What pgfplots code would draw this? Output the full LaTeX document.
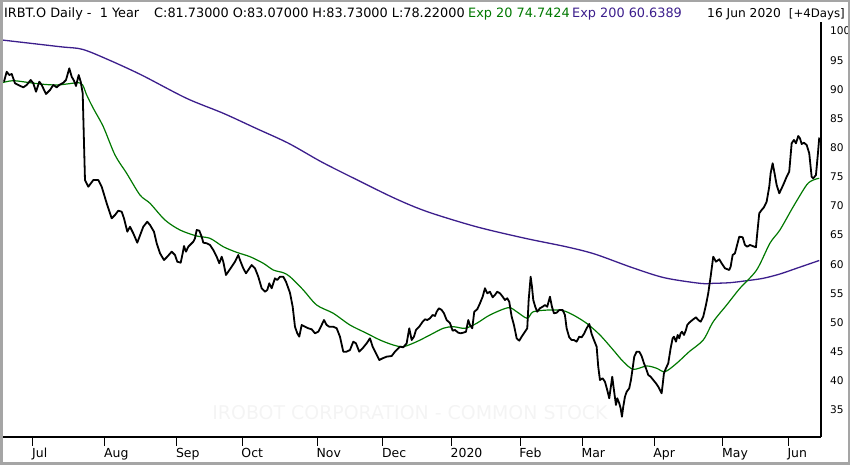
\documentclass[border=0pt]{standalone}
\usepackage{fontspec}
\setmainfont{DejaVu Sans}
\usepackage{pgfplots}
\pgfplotsset{compat=1.18}
\definecolor{emagreen}{RGB}{0,120,0}
\definecolor{emapurple}{RGB}{60,30,140}
\definecolor{wm}{RGB}{244,244,244}
\definecolor{frame}{RGB}{165,165,165}
\begin{document}
\begin{tikzpicture}[x=1bp,y=1bp]
\useasboundingbox (0,0) rectangle (850,465);
\node[anchor=base, text=wm, font=\fontsize{19}{19}\selectfont, inner sep=0pt] at (410,45) {IROBOT CORPORATION - COMMON STOCK};
\begin{axis}[
  at={(2bp,28bp)}, anchor=south west,
  width=819bp, height=415bp, scale only axis,
  xmin=-9.48, xmax=241, ymin=30.36, ymax=101.55,
  axis x line*=bottom, axis y line*=right,
  axis line style={black, line width=1.2bp},
  xtick={0,22,44,64,87,107,128,149,168,190,211,231},
  xticklabels={Jul,Aug,Sep,Oct,Nov,Dec,2020,Feb,Mar,Apr,May,Jun},
  ytick={35,40,...,100},
  tick align=outside,
  x tick style={black, line width=1bp},
  major tick length=9bp,
  y tick style={draw=none},
  xticklabel style={anchor=north west, inner sep=0pt, xshift=-1bp, yshift=-2bp, font=\fontsize{12.5}{12.5}\selectfont},
  yticklabel style={anchor=west, inner sep=0pt, xshift=0bp, font=\fontsize{10.6}{10.6}\selectfont},
  /pgf/number format/assume math mode=true,
]
% EMA 200
\addplot[emapurple, line width=1.3bp, smooth] coordinates {
(-9.48,98.46)(8.26,97.31)(15.11,96.86)(23.24,95.03)(33.21,92.45)(46.94,88.46)(58.19,85.89)(68.20,83.31)(78.16,80.74)(88.13,77.58)(98.13,74.74)(110.61,71.31)(120.58,69.01)(135.57,66.43)(150.55,64.44)(163.02,63.00)(171.77,61.75)(182.99,59.47)(192.99,57.69)(203.97,56.72)(208.04,56.72)(213.14,56.83)(218.25,57.17)(223.32,57.58)(228.43,58.32)(233.53,59.30)(240.46,60.64)
};
% EMA 20
\addplot[emagreen, line width=1.2bp, smooth] coordinates {
(-9.48,91.13)(-6.02,91.48)(-0.92,91.13)(3.15,90.86)(7.25,90.74)(10.31,90.91)(13.85,91.13)(15.20,90.74)(16.42,89.03)(18.44,86.74)(21.50,83.59)(25.08,78.73)(28.65,75.59)(32.72,71.87)(35.78,70.45)(40.37,67.58)(44.95,65.87)(50.06,64.84)(54.13,64.44)(58.19,63.00)(62.29,62.04)(66.36,61.29)(70.43,60.16)(73.48,59.01)(76.54,58.54)(78.59,57.86)(82.66,55.58)(86.75,53.00)(91.83,51.58)(96.94,49.57)(102.04,48.15)(106.11,47.00)(110.18,46.14)(113.24,45.85)(117.34,46.71)(121.41,47.86)(125.47,49.01)(128.53,49.28)(132.11,49.01)(135.68,49.86)(139.75,51.29)(145.35,52.54)(147.92,51.85)(151.16,50.72)(153.00,51.85)(158.10,52.15)(162.17,52.02)(165.22,51.29)(169.32,49.86)(173.39,47.86)(177.46,45.28)(180.52,43.29)(183.58,41.97)(187.67,42.54)(190.73,42.15)(193.27,41.56)(196.85,43.00)(200.70,45.00)(204.98,47.00)(208.04,50.14)(212.14,53.00)(216.20,55.87)(221.31,59.01)(225.37,63.59)(228.43,65.87)(232.50,69.86)(236.59,73.59)(238.62,74.44)(240.46,74.74)
};
% Close
\addplot[black, line width=1.8bp, line join=round] coordinates {
(-8.87,91.31)(-8.04,93.02)(-7.25,92.45)(-6.51,92.63)(-5.50,91.03)(-4.50,90.74)(-2.97,90.34)(-1.93,90.74)(-0.70,91.60)(0.09,91.03)(0.92,89.59)(1.93,91.31)(2.66,90.74)(3.98,89.20)(5.20,89.88)(6.21,90.74)(7.25,90.34)(8.04,90.74)(9.27,91.13)(10.09,91.60)(11.10,93.60)(11.83,92.16)(12.54,91.48)(13.15,90.57)(13.97,92.45)(14.59,91.31)(15.20,89.32)(15.60,80.74)(15.90,74.44)(16.91,73.29)(18.44,74.44)(19.97,74.44)(21.01,73.29)(22.54,70.45)(24.07,67.87)(25.08,68.44)(26.08,69.18)(27.12,69.01)(27.83,67.87)(28.84,65.58)(29.66,66.43)(30.67,65.30)(31.89,63.69)
(33.73,66.43)(34.95,67.29)(35.78,66.73)(37.00,65.58)(37.83,63.59)(38.84,61.87)(40.06,60.72)(41.07,61.29)(42.41,62.15)(43.42,61.58)(44.13,60.43)(45.17,60.26)(45.78,61.87)(46.18,63.12)(46.79,62.15)(47.49,63.00)(49.02,63.86)(49.54,64.44)(50.06,65.87)(50.86,65.75)(51.59,64.72)(52.08,63.69)(53.12,63.59)(54.13,63.30)(55.14,62.44)(56.17,61.29)(56.97,60.16)(57.70,61.29)(58.19,60.43)(59.02,58.15)(59.72,58.72)(60.76,59.57)(61.77,60.43)(62.78,61.58)(63.30,60.72)(64.31,59.30)(65.14,58.44)(65.84,59.01)(66.88,59.86)(67.89,59.30)(68.90,57.86)(69.94,55.87)(70.95,55.28)(71.65,55.58)(72.26,56.72)(72.99,55.87)(74.00,57.58)(74.71,57.29)(75.53,57.86)(76.54,57.86)(77.37,57.00)(78.59,55.10)
(79.42,52.71)(80.12,49.28)(80.82,48.15)(81.43,47.57)(82.17,49.57)(83.18,49.28)(84.19,49.01)(85.23,48.83)(86.24,48.15)(87.25,48.42)(88.28,49.57)(88.99,50.43)(89.81,49.57)(90.61,49.28)(91.83,49.28)(92.87,49.01)(93.88,47.57)(94.89,45.00)(95.93,45.00)(96.94,45.28)(97.95,46.71)(98.77,46.43)(99.78,45.00)(100.82,45.58)(102.04,46.43)(103.05,47.29)(103.88,45.85)(104.89,44.72)(105.90,43.57)(106.94,43.86)(108.16,44.14)(109.69,44.25)(110.70,45.00)(111.71,45.58)(112.23,45.85)(113.24,45.75)(114.28,46.43)(115.07,49.01)(115.81,47.00)(116.51,47.57)(117.13,48.72)(118.13,49.28)(119.17,50.14)(119.88,50.55)(120.58,50.43)(121.41,50.72)(122.23,51.29)(122.94,51.12)(123.46,51.85)(124.16,52.44)(124.98,52.15)(125.69,51.58)(126.51,50.43)(127.52,49.90)
(128.34,48.59)(129.05,48.72)(130.06,48.25)(130.79,48.15)(131.59,48.25)(132.42,48.42)(133.12,50.43)(133.64,49.57)(134.34,49.01)(134.95,51.85)(135.87,52.27)(136.70,53.29)(137.52,54.43)(138.22,55.87)(138.93,55.01)(139.75,55.28)(140.58,54.32)(141.28,54.72)(141.98,55.28)(142.81,55.01)(143.63,54.43)(144.34,53.86)(145.04,54.15)(145.65,53.57)(146.39,51.00)(147.09,49.57)(147.92,47.29)(148.71,46.88)(149.45,47.57)(150.46,48.42)(151.16,49.01)(151.59,53.86)(152.20,57.86)(152.60,56.14)(153.00,53.86)(153.60,52.71)(154.21,51.85)(155.04,52.44)(155.87,52.71)(156.57,53.00)(157.27,52.71)(158.10,54.43)(158.71,52.71)(159.32,51.58)(160.14,51.68)(160.94,52.15)(161.98,52.15)(162.68,51.29)(163.20,49.01)(163.99,47.46)(164.73,47.00)(165.43,47.00)(166.26,46.71)(167.05,47.57)(167.79,47.46)(168.49,48.03)(169.32,49.01)(170.12,49.75)
(170.85,48.03)(171.55,47.00)(172.38,45.85)(172.87,42.42)(173.39,40.14)(174.21,40.43)(174.92,39.85)(175.62,38.42)(176.23,37.00)(176.66,38.71)(177.15,40.70)(177.67,38.42)(178.29,35.85)(178.68,37.00)(179.30,36.14)(179.72,35.28)(180.12,33.84)(180.52,35.56)(181.04,37.27)(181.56,38.13)(182.35,38.71)(182.87,40.14)(183.39,42.14)(183.88,44.14)(184.61,45.00)(185.41,45.00)(186.14,44.25)(186.85,43.00)(187.46,42.15)(188.16,41.00)(188.90,40.70)(189.69,40.14)(190.52,39.57)(191.22,39.00)(191.74,38.42)(192.26,37.86)(192.56,39.28)(192.96,41.29)(193.57,42.15)(194.28,43.00)(195.01,45.58)(195.62,47.29)(196.02,47.57)(196.64,46.71)(197.16,47.86)(197.65,47.29)(198.07,48.15)(198.47,48.42)(199.08,47.86)(199.69,48.72)(200.09,49.57)(200.70,49.97)
(201.93,50.55)(202.75,50.89)(203.46,50.43)(204.19,50.14)(204.98,51.00)(205.81,53.00)(206.51,55.01)(207.24,57.86)(208.04,61.29)(208.87,60.43)(209.88,60.84)(210.61,60.16)(211.62,59.30)(212.93,59.01)(213.36,59.57)(213.97,61.58)(214.68,61.87)(215.20,63.00)(216.00,64.72)(217.04,64.62)(217.74,63.30)(218.44,63.00)(219.27,63.30)(220.09,63.12)(221.10,62.90)(221.50,65.30)(222.11,68.73)(222.84,69.30)(223.55,69.76)(224.37,70.72)(225.17,73.30)(225.59,75.59)(226.21,77.31)(226.70,75.87)(227.43,73.59)(228.23,72.16)(228.96,73.02)(229.66,73.88)(230.49,75.01)(231.28,75.87)(232.02,80.74)(232.72,81.31)(233.33,80.74)(234.04,81.99)(234.56,81.60)(235.08,80.62)(235.78,80.84)(236.61,80.45)(237.40,79.02)(238.13,75.01)(238.62,74.74)(239.45,75.30)(240.06,79.02)(240.46,81.73)
};
\end{axis}
\begin{scope}[font=\fontsize{12.9}{12.9}\selectfont]
\node[anchor=base west, inner sep=0pt] at (4,447) {IRBT.O Daily -\ \ 1 Year};
\node[anchor=base west, inner sep=0pt] at (154,447) {C:81.73000 O:83.07000 H:83.73000 L:78.22000};
\node[anchor=base west, inner sep=0pt, text=emagreen] at (468,447) {Exp 20 74.7424};
\node[anchor=base west, inner sep=0pt, text=emapurple] at (572,447) {Exp 200 60.6389};
\node[anchor=base west, inner sep=0pt, font=\fontsize{12.3}{12.3}\selectfont] at (707,447) {16 Jun 2020};
\node[anchor=base east, inner sep=0pt, font=\fontsize{11.8}{11.8}\selectfont] at (845,447) {[+4Days]};
\end{scope}
\draw[frame, line width=2.5bp] (1.25,1.25) rectangle (848.75,463.75);
\end{tikzpicture}
\end{document}
